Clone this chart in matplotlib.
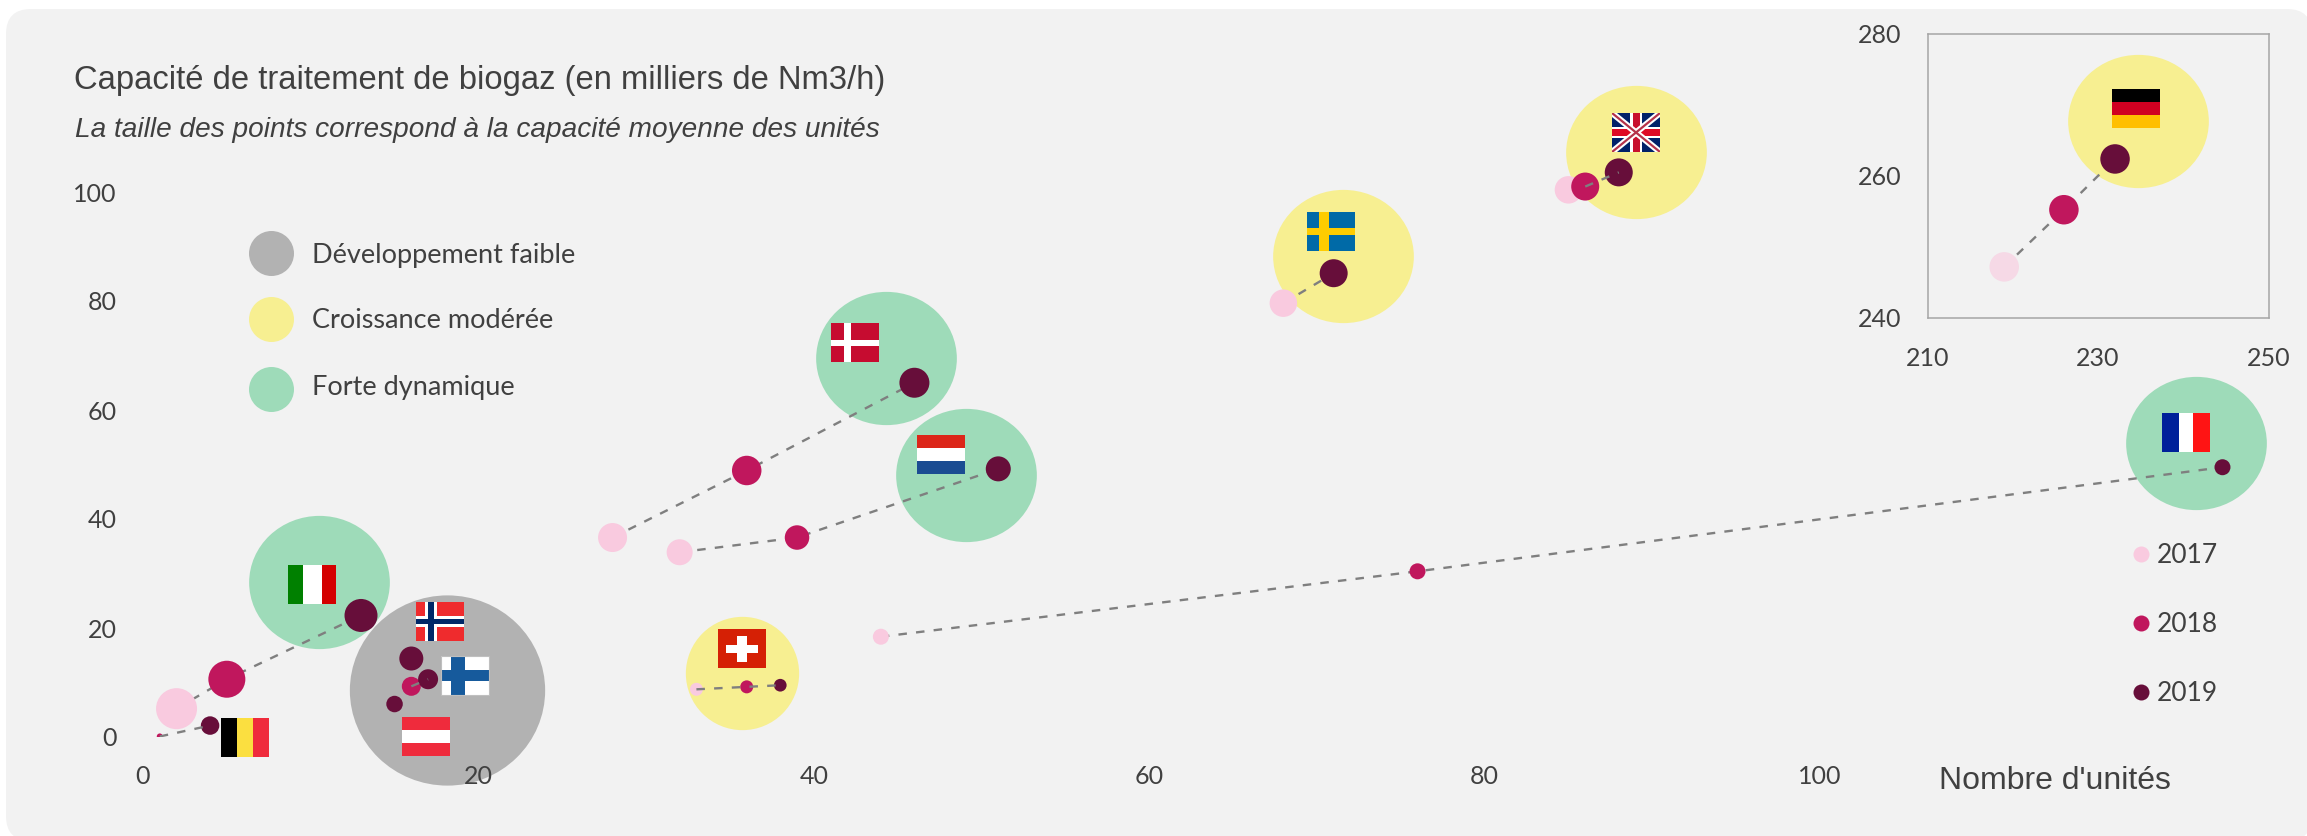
import numpy as np
import matplotlib
matplotlib.use("Agg")
import matplotlib.pyplot as plt
from matplotlib.markers import MarkerStyle
from matplotlib.patches import FancyBboxPatch, Rectangle
from matplotlib.path import Path
from matplotlib.transforms import Affine2D

# Given data (units, capacity) per year, nan = point not shown
pays = ["Belgique", "Italie", "Autriche", "Norvège", "Finlande", "Suisse", "Danemark",
        "Pays-Bas", "France", "Suède", "Royaume-Uni"]
x_2017 = [np.nan, 2, np.nan, np.nan, np.nan, 33, 28, 32, 44, 68, 85]
y_2017 = [np.nan, 5.2, np.nan, np.nan, np.nan, 8.75, 36.6, 33.9, 18.4, 79.6, 100.4]
d_2017 = [0, 41, 0, 0, 0, 13, 29, 26, 16, 27.5, 27.5]
x_2018 = [1, 5, np.nan, np.nan, 16, 36, 36, 39, 76, np.nan, 86]
y_2018 = [0.1, 10.6, np.nan, np.nan, 9.3, 9.2, 48.9, 36.6, 30.4, np.nan, 101]
d_2018 = [6, 37, 0, 0, 19, 13, 29.5, 24.5, 16, 0, 28]
x_2019 = [4, 13, 15, 16, 17, 38, 46, 51, 124, 71, 88]
y_2019 = [2.1, 22.3, 6.05, 14.4, 10.6, 9.5, 65, 49.2, 49.5, 85.1, 103.6]
d_2019 = [18.5, 33, 16.5, 24, 20, 12.7, 30, 25, 16, 28, 28]

# Big bubbles: group average, one per group of countries
bulle_pays = ["Italie", "Nordiques", "Suisse", "Danemark", "Pays-Bas", "France", "Suède", "Royaume-Uni"]
bulle_x = [10.5, 18.1, 35.7, 44.3, 49.1, 122.4, 71.55, 89]
bulle_y = [28.5, 8.7, 11.8, 69.5, 48, 53.9, 88.3, 107.4]
bulle_d = [140.7, 195.3, 113.3, 140.7, 140.7, 140.7, 140.7, 140.7]
bulle_groupe = ["forte", "faible", "moderee", "forte", "forte", "forte", "moderee", "moderee"]

# Germany goes in the inset
de_x = [219, 226, 232]
de_y = [247.2, 255.25, 262.4]
de_bulle = (234.7, 267.7)

x_ticks = [0, 20, 40, 60, 80, 100]
y_ticks = [0, 20, 40, 60, 80, 100]
x_ticks_de = [210, 230, 250]
y_ticks_de = [240, 260, 280]
annees = ["2017", "2018", "2019"]
groupes = ["Développement faible", "Croissance modérée", "Forte dynamique"]

col_an = {"2017": "#F9CADF", "2018": "#C0175D", "2019": "#670E3A"}
col_gr = {"faible": "#B2B2B2", "moderee": "#F7EF91", "forte": "#9EDBB9"}
gris = "#404040"
W, H = 2307, 836
FONT = "Lato"
SANS = "Liberation Sans"
TIRETS = dict(color="#7F7F7F", lw=1.7, ls=(0, (3.6, 3.9)))


def taille(d):
    return (d * 72 / 100) ** 2


def ovale(r):
    # bubbles are slightly wider than tall
    return MarkerStyle(Path.unit_circle().transformed(Affine2D().scale(1, r)))


def pixel_axes(x0, y_top, x1, y_bot, z):
    return fig.add_axes([x0 / W, 1 - y_bot / H, (x1 - x0) / W, (y_bot - y_top) / H], zorder=z)


fig = plt.figure(figsize=(W / 100, H / 100), dpi=100, facecolor="white")

# rounded grey background and text layer, in pixels
bg = pixel_axes(0, 0, W, H, 0)
bg.set_xlim(0, W)
bg.set_ylim(H, 0)
bg.axis("off")
bg.add_patch(FancyBboxPatch((31, 34), 2256, 782, boxstyle="round,pad=25,rounding_size=25",
                            fc="#F2F2F2", ec="none"))

# ---- main chart ----
ax = pixel_axes(143, 0, W, 737, 1)
ax.patch.set_alpha(0)
ax.set_xlim(0, (W - 143) / 16.77)
ax.set_ylim(0, 737 / 5.45)
ax.set_axisbelow(False)
for s in ax.spines.values():
    s.set_visible(False)
ax.set_xticks(x_ticks)
ax.set_yticks(y_ticks)
ax.tick_params(length=0, labelsize=18, labelcolor=gris, labelfontfamily=FONT)
ax.tick_params(axis="x", pad=20)
ax.tick_params(axis="y", pad=19)

for i, nom in enumerate(bulle_pays):
    r = {"Nordiques": 0.974, "Suisse": 1.0}.get(nom, 0.947)
    ax.scatter(bulle_x[i], bulle_y[i], s=taille(bulle_d[i]), marker=ovale(r),
               color=col_gr[bulle_groupe[i]], linewidths=0, zorder=2, clip_on=False)

dessus = ["Belgique", "Suisse", "Finlande", "Royaume-Uni"]
for i, nom in enumerate(pays):
    xs = [x_2017[i], x_2018[i], x_2019[i]]
    ys = [y_2017[i], y_2018[i], y_2019[i]]
    if nom == "Royaume-Uni":
        xs, ys = xs[1:], ys[1:]
    xs = [v for v in xs if not np.isnan(v)]
    ys = [v for v in ys if not np.isnan(v)]
    if len(xs) > 1:
        ax.plot(xs, ys, zorder=6 if nom in dessus else 3, **TIRETS)

ax.scatter(x_2017, y_2017, s=[taille(d) for d in d_2017], color=col_an["2017"], linewidths=0, zorder=4)
ax.scatter(x_2018, y_2018, s=[taille(d) for d in d_2018], color=col_an["2018"], linewidths=0, zorder=5)
ax.scatter(x_2019, y_2019, s=[taille(d) for d in d_2019], color=col_an["2019"], linewidths=0, zorder=5)

# ---- Germany inset ----
axd = pixel_axes(1927.5, 34, 2268.5, 318, 2)
axd.set_facecolor("#F2F2F2")
axd.set_xlim(210, 250)
axd.set_ylim(240, 280)
for s in axd.spines.values():
    s.set_color("#A6A6A6")
    s.set_linewidth(1.1)
axd.set_xticks(x_ticks_de)
axd.set_yticks(y_ticks_de)
axd.tick_params(length=0, labelsize=18, labelcolor=gris, labelfontfamily=FONT)
axd.tick_params(axis="x", pad=21)
axd.tick_params(axis="y", pad=19)
axd.scatter(*de_bulle, s=taille(140.7), marker=ovale(0.947), color=col_gr["moderee"], linewidths=0, zorder=2)
axd.plot(de_x, de_y, zorder=3, **TIRETS)
axd.scatter(de_x, de_y, s=taille(29.5), color=["#F6D9E6", col_an["2018"], col_an["2019"]], linewidths=0, zorder=4)

# ---- flags and legends on top, in pixels ----
top = pixel_axes(0, 0, W, H, 4)
top.patch.set_alpha(0)
top.set_xlim(0, W)
top.set_ylim(H, 0)
top.axis("off")


def bandes_v(c1, c2, c3, a=1 / 3, b=2 / 3):
    return [(0, 0, a, 1, c1), (a, 0, b - a, 1, c2), (b, 0, 1 - b, 1, c3)]


def bandes_h(c1, c2, c3, a=1 / 3, b=2 / 3):
    return [(0, 0, 1, a, c1), (0, a, 1, b - a, c2), (0, b, 1, 1 - b, c3)]


def croix(fond, c, x0, x1, y0, y1):
    return [(0, 0, 1, 1, fond), (x0, 0, x1 - x0, 1, c), (0, y0, 1, y1 - y0, c)]


drapeaux = {
    "be": (221, 718, bandes_v("#000000", "#FBDF40", "#EF2B3C")),
    "it": (288, 565, bandes_v("#008000", "#FFFFFF", "#D40000", 0.32, 0.70)),
    "no": (416, 602, croix("#EF2B2D", "#FFFFFF", 0.19, 0.44, 0.37, 0.63)
           + [(0.25, 0, 0.13, 1, "#002868"), (0, 0.44, 1, 0.12, "#002868")]),
    "fi": (440.5, 656, croix("#FFFFFF", "#165A9C", 0.22, 0.50, 0.37, 0.65)),
    "at": (402, 717, bandes_h("#EF2B3C", "#FFFFFF", "#EF2B3C", 0.34, 0.67)),
    "de": (2112, 89, bandes_h("#000000", "#D00021", "#FFBF00")),
    "fr": (2162, 413, bandes_v("#00209A", "#FFFFFF", "#FF1414", 0.35, 0.65)),
    "se": (1307, 212, croix("#006AA7", "#FECC00", 0.25, 0.46, 0.40, 0.60)),
    "dk": (831, 323, croix("#C60C30", "#FFFFFF", 0.27, 0.415, 0.435, 0.58)),
    "nl": (917, 435, bandes_h("#DC2619", "#FFFFFF", "#1B4C92")),
    "ch": (718, 629, [(0, 0, 1, 1, "#D52005"), (0.40, 0.18, 0.20, 0.67, "#FFFFFF"),
                      (0.17, 0.41, 0.67, 0.20, "#FFFFFF")]),
}
for code, (fx, fy, rects) in drapeaux.items():
    for a, b, w, h, c in rects:
        top.add_patch(Rectangle((fx + a * 48, fy + b * 39), w * 48, h * 39, fc=c, ec="none"))
top.add_patch(Rectangle((440.5, 656), 48, 39, fc="none", ec="#BFBFBF", lw=0.8))

# union jack
ux, uy = 1612, 113
cadre = Rectangle((ux, uy), 48, 39, fc="#012169", ec="none")
top.add_patch(cadre)
for lw, c in [(4.5, "#FFFFFF"), (1.6, "#B5334A")]:
    for xs, ys in [([ux, ux + 48], [uy, uy + 39]), ([ux, ux + 48], [uy + 39, uy])]:
        ln, = top.plot(xs, ys, color=c, lw=lw, solid_capstyle="butt")
        ln.set_clip_path(cadre)
top.add_patch(Rectangle((ux + 18, uy), 12, 39, fc="#FFFFFF", ec="none"))
top.add_patch(Rectangle((ux, uy + 14), 48, 11, fc="#FFFFFF", ec="none"))
top.add_patch(Rectangle((ux + 20.5, uy), 7, 39, fc="#C8102E", ec="none"))
top.add_patch(Rectangle((ux, uy + 16), 48, 7, fc="#DE0A25", ec="none"))

# title block
top.text(74, 81, "Capacité de traitement de biogaz (en milliers de Nm3/h)", family=SANS,
         fontsize=23.6, color=gris, va="center", ha="left")
top.text(75, 130, "La taille des points correspond à la capacité moyenne des unités", family=SANS,
         style="italic", fontsize=20.2, color=gris, va="center", ha="left")
top.text(1939, 781, "Nombre d'unités", family=SANS, fontsize=23, color=gris, va="center", ha="left")

# legends
for label, key, ly, ty in zip(groupes, ["faible", "moderee", "forte"], [253, 319, 389], [255, 321, 387]):
    top.scatter(271, ly, s=taille(45), color=col_gr[key], linewidths=0)
    top.text(311.5, ty, label, family=FONT, fontsize=19.5, color=gris, va="center", ha="left")
for an, ly in zip(annees, [553.7, 623, 692.3]):
    top.scatter(2140.7, ly, s=taille(16), color=col_an[an], linewidths=0)
    top.text(2156.7, ly + 1.5, an, family=FONT, fontsize=19, color=gris, va="center", ha="left")

fig.savefig("out.png", dpi=100)
